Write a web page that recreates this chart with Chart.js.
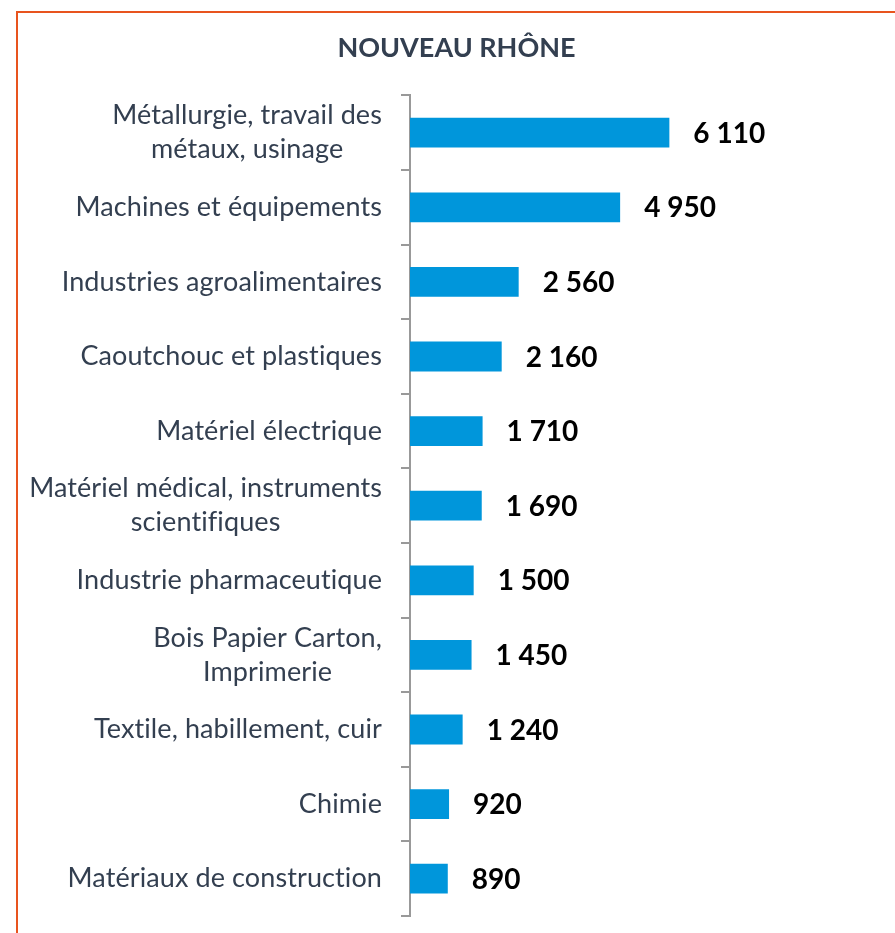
<!DOCTYPE html>
<html>
<head>
<meta charset="utf-8">
<script src="https://cdn.jsdelivr.net/npm/chart.js@4"></script>
<style>
  html, body { margin: 0; padding: 0; background: #fff; }
  .frame {
    position: absolute; left: 16px; top: 11px;
    width: 900px; height: 940px;
    border-left: 2px solid #E8541E; border-top: 2px solid #E8541E;
  }
  .wrap { position: absolute; left: 0; top: 0; width: 877px; height: 920px; }
</style>
</head>
<body>
<div class="frame"><div class="wrap"><canvas id="chart"></canvas></div></div>
<script>
// Nouveau Rhône - effectifs par secteur
const categories = [
  ['Métallurgie, travail des', 'métaux, usinage'],
  'Machines et équipements',
  'Industries agroalimentaires',
  'Caoutchouc et plastiques',
  'Matériel électrique',
  ['Matériel médical, instruments', 'scientifiques'],
  'Industrie pharmaceutique',
  ['Bois Papier Carton,', 'Imprimerie'],
  'Textile, habillement, cuir',
  'Chimie',
  'Matériaux de construction'
];
const values = [6110, 4950, 2560, 2160, 1710, 1690, 1500, 1450, 1240, 920, 890];

const TEXT = '#333F50';
const FONT = 'Lato, "Open Sans", sans-serif';

function fmt(v) {
  return String(v).replace(/\B(?=(\d{3})+(?!\d))/g, ' ');
}

// draws category labels (lines centred inside a right-aligned block)
const catLabels = {
  id: 'catLabels',
  afterDraw(chart) {
    const ctx = chart.ctx;
    const y = chart.scales.y;
    const right = y.right - 28;
    ctx.save();
    ctx.font = '27px ' + FONT;
    ctx.letterSpacing = '0.1px'; // no ligatures
    ctx.fillStyle = TEXT;
    ctx.textBaseline = 'middle';
    ctx.textAlign = 'center';
    categories.forEach((c, i) => {
      const lines = Array.isArray(c) ? c : [c];
      const w = Math.max(...lines.map(l => ctx.measureText(l).width));
      const cy = y.getPixelForValue(i);
      const lh = 34;
      lines.forEach((l, j) => {
        ctx.fillText(l, right - w / 2, cy + (j - (lines.length - 1) / 2) * lh);
      });
    });
    ctx.restore();
  }
};

// value labels to the right of each bar
const valueLabels = {
  id: 'valueLabels',
  afterDatasetsDraw(chart) {
    const ctx = chart.ctx;
    const meta = chart.getDatasetMeta(0);
    ctx.save();
    ctx.font = 'bold 28px ' + FONT;
    ctx.fillStyle = '#000';
    ctx.textBaseline = 'middle';
    ctx.textAlign = 'left';
    meta.data.forEach((bar, i) => {
      ctx.fillText(fmt(values[i]), bar.x + 24, bar.y + 1);
    });
    ctx.restore();
  }
};

new Chart(document.getElementById('chart'), {
  type: 'bar',
  data: {
    labels: categories,
    datasets: [{
      data: values,
      backgroundColor: '#0096DB',
      borderWidth: 0,
      barPercentage: 0.4,
      categoryPercentage: 1
    }]
  },
  options: {
    indexAxis: 'y',
    responsive: true,
    maintainAspectRatio: false,
    animation: false,
    layout: { padding: { left: 0, right: 0, top: 0, bottom: 17 } },
    scales: {
      x: { display: false, min: 0, max: 11425 },
      y: {
        afterFit(scale) { scale.width = 392; },
        border: { display: true, color: '#999', width: 2 },
        grid: { offset: true, drawOnChartArea: false, drawTicks: true, tickLength: 9, color: '#999', lineWidth: 2 },
        ticks: { display: false }
      }
    },
    plugins: {
      legend: { display: false },
      tooltip: { enabled: false },
      title: {
        display: true,
        text: 'NOUVEAU RHÔNE',
        color: TEXT,
        font: { family: FONT, size: 27, weight: 'bold' },
        padding: { top: 19, bottom: 31 }
      }
    }
  },
  plugins: [catLabels, valueLabels]
});
</script>
</body>
</html>
